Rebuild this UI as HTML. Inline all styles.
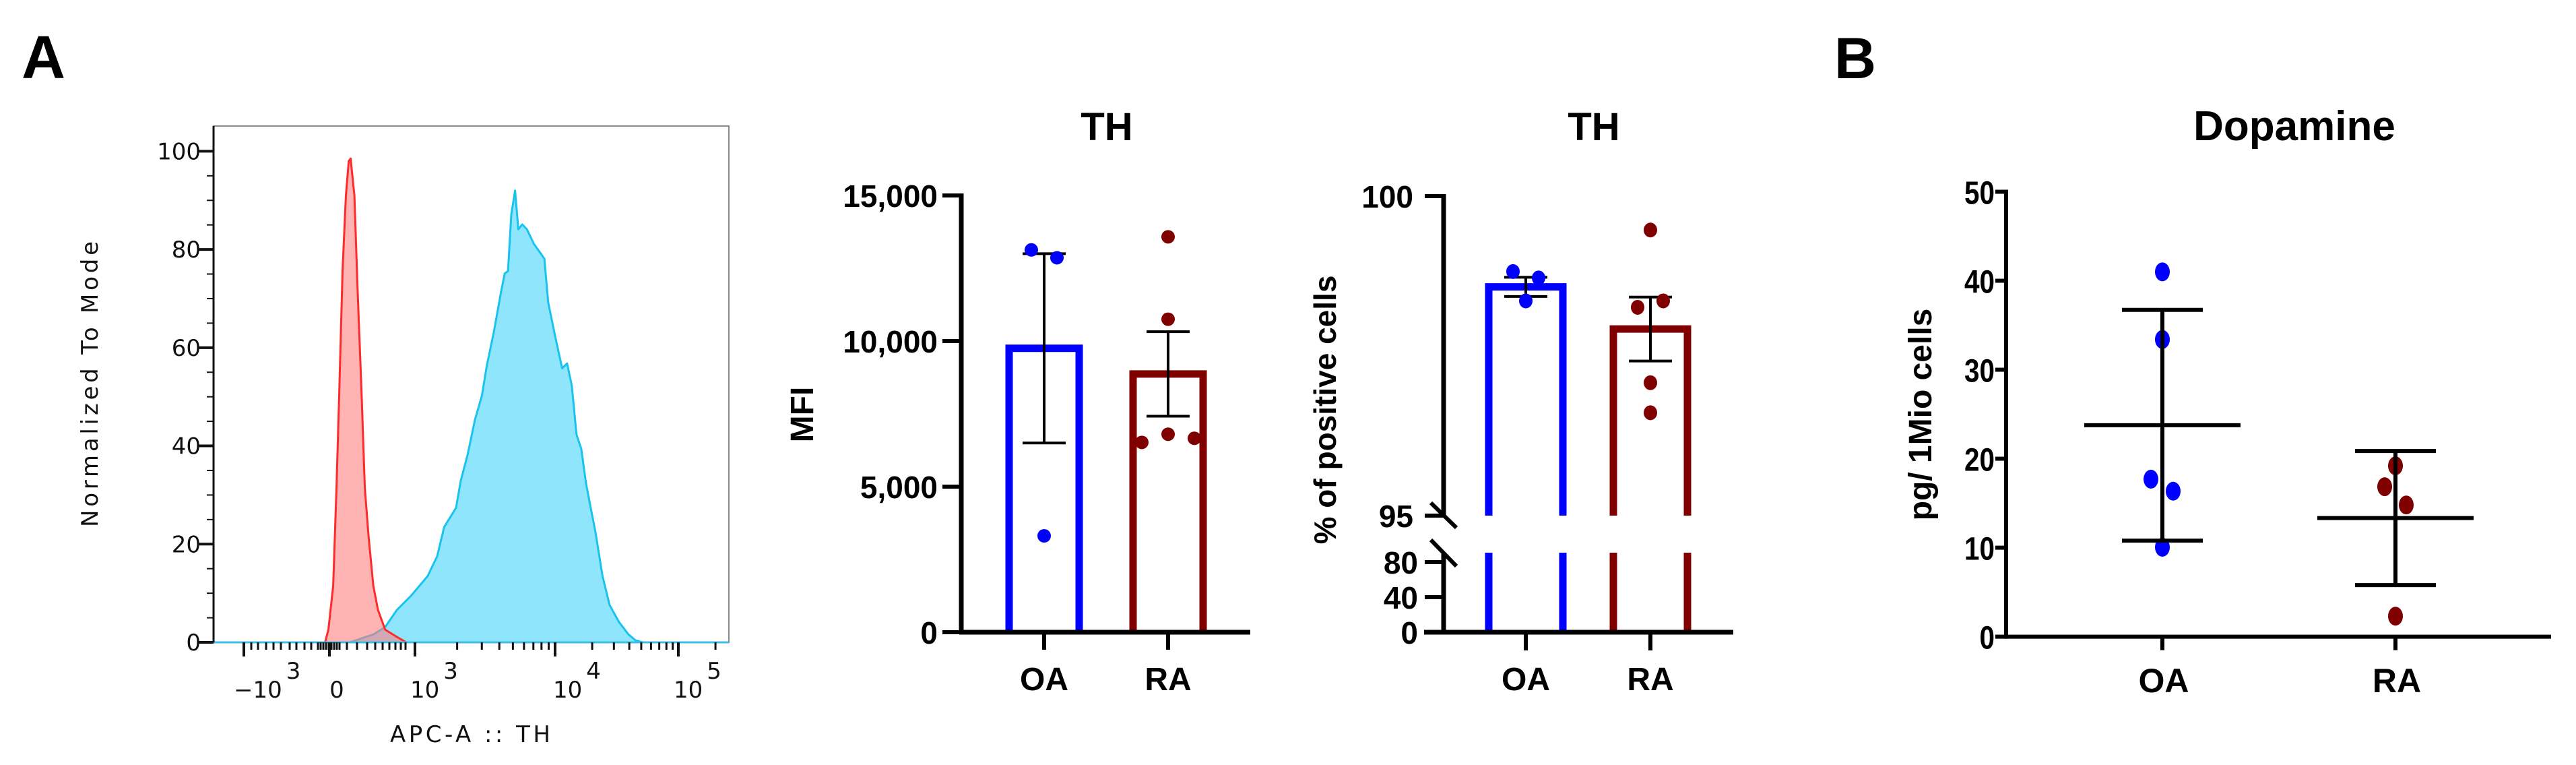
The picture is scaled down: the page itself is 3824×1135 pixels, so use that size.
<!DOCTYPE html>
<html><head><meta charset="utf-8"><style>
html,body{margin:0;padding:0;background:#fff;}
svg{display:block;}
text{font-family:"Liberation Sans",sans-serif;}
.dj{font-family:"DejaVu Sans","Liberation Sans",sans-serif;}
</style></head><body>
<svg id="fig" width="3824" height="1135" viewBox="0 0 3824 1135" xmlns="http://www.w3.org/2000/svg">
<text x="32" y="116" font-size="90" font-weight="bold">A</text>
<text x="2723" y="116" font-size="86" font-weight="bold">B</text>
<g id="hist"></g>
<g id="mfi"></g>
<g id="pct"></g>
<g id="dopa"></g>
</svg>
<script>
// ---- Histogram data ----
const blueX = [237,513,651,789,955,1233,1439,1617,1965,2123,2384,2678,3007,3253,3655,4105,4367,4613,4869,5180,5472,5826,6295,7070,7943,8386,8933,10037,11414,12511,13659,14919,16316,17816,19455,21250,24245,27675,33037,39411,44978,51335];
const blueY = [0,1.6,3.1,6.6,9.5,13.5,17.5,23.5,27.4,32.9,38.4,45.3,50.3,56.3,63.2,71.2,75.1,75.6,87.1,92,84.1,85.1,84.1,81.1,79.1,78.1,69.2,62.2,55.8,56.8,52.3,42.3,39.4,32.4,27.4,22.5,13.5,7.6,4.1,1.6,0.4,0];
const redX = [-50,-12,44,83,116,154,193,226,248,292,331,375,414,458,513,568,651,789,900];
const redY = [0,2.6,11.5,31.4,51.3,76.1,91,98,98.5,91,71.2,51.3,31.4,21.5,11.5,6.6,2.6,1.1,0];
const histYTicks = [0,20,40,60,80,100];
// ---- MFI data ----
const mfiCats = ["OA","RA"];
const mfiMeans = [9750,8870];
const mfiSem = [3250,1450];
const mfiOA = [13130,12860,3310];
const mfiRA = [13580,10750,6520,6800,6660];
const mfiTicks = [0,5000,10000,15000];
const mfiTickLabels = ["0","5,000","10,000","15,000"];
// ---- Percent data ----
const pctMeans = [98.58,97.92];
const pctSem = [0.15,0.5];
const pctOA = [98.82,98.72,98.36];
const pctRA = [99.47,98.26,98.36,97.08,96.61];
const pctTicksUpper = [95,100];
const pctTicksLower = [0,40,80];
// ---- Dopamine data ----
const dopaCats = ["OA","RA"];
const dopaMeans = [23.76,13.33];
const dopaSd = [12.97,7.54];
const dopaOA = [41.0,33.4,17.7,16.35,10.05];
const dopaRA = [19.2,16.85,14.8,2.3];
const dopaTicks = [0,10,20,30,40,50];

const NS="http://www.w3.org/2000/svg";
function mk(parent,tag,attrs,txt){const e=document.createElementNS(NS,tag);for(const k in attrs)e.setAttribute(k,attrs[k]);if(txt!==undefined)e.textContent=txt;parent.appendChild(e);return e;}

// ===== Histogram =====
(function(){
const g=document.getElementById('hist');
const L=317,R=1082,T=187,B=953;
const hx=v=>v<=1000?489+v/1000*127:(v<=10000?616+(Math.log10(v)-3)*208:824+(Math.log10(v)-4)*183);
const hy=c=>B-c/100*(B-224.4);
let r=mk(g,'rect',{x:L,y:T,width:R-L,height:B-T,fill:'#fff',stroke:'#8a8a8a','stroke-width':2});


function area(xs,ys,fill,stroke,name,op){
 let d='M'+hx(xs[0])+','+B;
 for(let i=0;i<xs.length;i++)d+=' L'+hx(xs[i]).toFixed(1)+','+hy(ys[i]).toFixed(1);
 d+=' L'+hx(xs[xs.length-1])+','+B+' Z';
 const p=mk(g,'path',{d:d,fill:fill,'fill-opacity':op,stroke:stroke,'stroke-width':3,'stroke-linejoin':'round'});
 
 
}
area(blueX,blueY,'#8fe6fc','#18c4ee','histogram-stained',1);
area(redX,redY,'#ff8080','#ff2a2a','histogram-control',0.6);
let bl=mk(g,'line',{x1:L,y1:B,x2:R,y2:B,stroke:'#3cc0e6','stroke-width':3});


let ya=mk(g,'line',{x1:L,y1:T,x2:L,y2:B,stroke:'#111','stroke-width':3});


for(let v=0;v<=100;v+=5){const y=hy(v);const maj=v%20===0;
 let t=mk(g,'line',{x1:L-(maj?22:10),y1:y,x2:L,y2:y,stroke:'#111','stroke-width':maj?4:2});
 
 }
histYTicks.forEach(v=>{let t=mk(g,'text',{x:298,y:hy(v)+12,'font-size':34,'text-anchor':'end',class:'dj',fill:'#111'},String(v));
 
 });
const major=[-1000,0,1000,10000,100000];
major.forEach(v=>{let t=mk(g,'line',{x1:hx(v),y1:B,x2:hx(v),y2:B+21,stroke:'#111','stroke-width':4});
 
 });
const minorPx=[373,383,395,406,417,430,440,452,462,472,476,480,484,488,492,496,500,504,515,530,545,557,568,578,587,595,602];
minorPx.forEach(x=>{let t=mk(g,'line',{x1:x,y1:B,x2:x,y2:B+11,stroke:'#111','stroke-width':3});
 
 });
for(let d=3;d<=4;d++)for(let m=2;m<=9;m++){const x=hx(m*Math.pow(10,d));if(x>R)continue;
 let t=mk(g,'line',{x1:x,y1:B,x2:x,y2:B+11,stroke:'#111','stroke-width':3});
 
 }
let t=mk(g,'line',{x1:hx(200000),y1:B,x2:hx(200000),y2:B+11,stroke:'#111','stroke-width':3});


const xl=[[347,'−10','3'],[609,'10','3'],[821,'10','4'],[1000,'10','5']];
xl.forEach(a=>{const tx=mk(g,'text',{x:a[0],y:1035,'font-size':34,class:'dj',fill:'#111'});
 
 
 mk(tx,'tspan',{},a[1]);mk(tx,'tspan',{dy:-28,dx:6},a[2]);});
let z=mk(g,'text',{x:500,y:1035,'font-size':34,class:'dj','text-anchor':'middle',fill:'#111'},'0');


let xt=mk(g,'text',{x:579,y:1101,'font-size':34,class:'dj',textLength:238,fill:'#111'},'APC-A :: TH');


let yt=mk(g,'text',{x:0,y:0,'font-size':34,class:'dj',textLength:424,'text-anchor':'middle',transform:'translate(145,570) rotate(-90)',fill:'#111'},'Normalized To Mode');


})();

function line(g,x1,y1,x2,y2,w,name,col){const l=mk(g,'line',{x1:x1,y1:y1,x2:x2,y2:y2,stroke:col||'#000','stroke-width':w});
 
 return l;}
function txt(g,x,y,s,size,anchor,name,extra){const a={x:x,y:y,'font-size':size,'font-weight':'bold','text-anchor':anchor||'middle'};Object.assign(a,extra||{});const t=mk(g,'text',a,s);
 
 return t;}
function dot(g,x,y,rx,ry,col,name){const c=mk(g,'ellipse',{cx:x,cy:y,rx:rx,ry:ry,fill:col});
 
 return c;}

// ===== MFI =====
(function(){
const g=document.getElementById('mfi');
const ax=1427,y0=938,yTop=290,xEnd=1856;
const ys=v=>y0-(v/15000)*(y0-yTop);
const cx=[1550,1734];const cols=['#0000ff','#800000'];
mfiCats.forEach((c,i)=>{
 const top=ys(mfiMeans[i]);
 const p=mk(g,'path',{d:`M${cx[i]-52},${y0} L${cx[i]-52},${top} L${cx[i]+52},${top} L${cx[i]+52},${y0}`,fill:'none',stroke:cols[i],'stroke-width':11});
 
 
 const hi=ys(mfiMeans[i]+mfiSem[i]),lo=ys(mfiMeans[i]-mfiSem[i]);
 line(g,cx[i],hi,cx[i],lo,4,'error-bar');
 line(g,cx[i]-32,hi,cx[i]+32,hi,4,'error-cap');
 line(g,cx[i]-32,lo,cx[i]+32,lo,4,'error-cap');
 line(g,cx[i],y0,cx[i],y0+26,6,'x-tick');
 txt(g,cx[i],1024,c,48,'middle','x-tick-label');
});
const oaOff=[-19,19,0],raOff=[0,0,-39,0,39];
mfiOA.forEach((v,i)=>dot(g,1550+oaOff[i],ys(v),10,10,'#0000ff','point-oa'));
mfiRA.forEach((v,i)=>dot(g,1734+raOff[i],ys(v),10,10,'#800000','point-ra'));
line(g,ax,yTop-3,ax,y0+3,7,'y-axis-line');
line(g,ax-3,y0,xEnd,y0,7,'x-axis-line');
mfiTicks.forEach((v,i)=>{line(g,ax-28,ys(v),ax,ys(v),6,'y-tick');
 txt(g,1392,ys(v)+17,mfiTickLabels[i],46,'end','y-tick-label');});
txt(g,1643,208,'TH',58,'middle','chart-title');
txt(g,0,0,'MFI',48,'middle','y-axis-title',{transform:'translate(1207,615) rotate(-90)'});
})();

// ===== Percent =====
(function(){
const g=document.getElementById('pct');
const ax=2143,y0=938,yTop=291,yB=765,yL=820,xEnd=2573;
const yu=v=>yB-(v-95)/5*(yB-yTop);
const yl=v=>y0-v/80*(y0-834);
const cx=[2265,2450];const cols=['#0000ff','#800000'];
mfiCats.forEach((c,i)=>{
 const top=yu(pctMeans[i]);
 const p=mk(g,'path',{d:`M${cx[i]-55},${yB} L${cx[i]-55},${top} L${cx[i]+55},${top} L${cx[i]+55},${yB} M${cx[i]-55},${yL} L${cx[i]-55},${y0} M${cx[i]+55},${yL} L${cx[i]+55},${y0}`,fill:'none',stroke:cols[i],'stroke-width':11});
 
 
 const hi=yu(pctMeans[i]+pctSem[i]),lo=yu(pctMeans[i]-pctSem[i]);
 line(g,cx[i],hi,cx[i],lo,4,'error-bar');
 line(g,cx[i]-32,hi,cx[i]+32,hi,4,'error-cap');
 line(g,cx[i]-32,lo,cx[i]+32,lo,4,'error-cap');
 line(g,cx[i],y0,cx[i],y0+27,6,'x-tick');
 txt(g,cx[i],1024,c,48,'middle','x-tick-label');
});
const oaOff=[-19,19,0],raOff=[0,-19,19,0,0];
pctOA.forEach((v,i)=>dot(g,2265+oaOff[i],yu(v),10,11,'#0000ff','point-oa'));
pctRA.forEach((v,i)=>dot(g,2450+raOff[i],yu(v),10,11,'#800000','point-ra'));
line(g,ax,yTop-3,ax,yB,7,'y-axis-line-upper');
line(g,ax,yL,ax,y0+3,7,'y-axis-line-lower');
line(g,2124,746,2162,783,6,'axis-break-mark');
line(g,2124,801,2162,840,6,'axis-break-mark');
line(g,2114,y0,xEnd,y0,7,'x-axis-line');
pctTicksUpper.forEach(v=>{line(g,ax-28,yu(v),ax,yu(v),6,'y-tick');
 txt(g,2098,yu(v)+17,String(v),46,'end','y-tick-label');});
pctTicksLower.forEach(v=>{line(g,ax-28,yl(v),ax,yl(v),6,'y-tick');
 txt(g,2105,yl(v)+17,String(v),46,'end','y-tick-label');});
txt(g,2366,208,'TH',58,'middle','chart-title');
txt(g,0,0,'% of positive cells',46,'middle','y-axis-title',{transform:'translate(1983,608) rotate(-90)'});
})();

// ===== Dopamine =====
(function(){
const g=document.getElementById('dopa');
const ax=2978,y0=944.6,yTop=284.5,xEnd=3787;
const ys=v=>y0-v/50*(y0-yTop);
const cx=[3210,3556];
const oaOff=[0,0,-17,16,0],raOff=[0,-16,16,0];
dopaOA.forEach((v,i)=>dot(g,cx[0]+oaOff[i],ys(v),11,14,'#0000ff','point-oa'));
dopaRA.forEach((v,i)=>dot(g,cx[1]+raOff[i],ys(v),11,14,'#800000','point-ra'));
dopaCats.forEach((c,i)=>{
 const hi=ys(dopaMeans[i]+dopaSd[i]),lo=ys(dopaMeans[i]-dopaSd[i]),m=ys(dopaMeans[i]);
 line(g,cx[i],hi,cx[i],lo,6,'error-bar');
 line(g,cx[i]-60,hi,cx[i]+60,hi,6,'error-cap');
 line(g,cx[i]-60,lo,cx[i]+60,lo,6,'error-cap');
 line(g,cx[i]-116,m,cx[i]+116,m,6,'mean-line-'+c.toLowerCase());
 line(g,cx[i],y0,cx[i],y0+20,6,'x-tick');
 txt(g,cx[i]+2,1027,c,50,'middle','x-tick-label');
});
line(g,ax,yTop-3,ax,y0+3,6,'y-axis-line');
line(g,ax-3,y0,xEnd,y0,6,'x-axis-line');
dopaTicks.forEach(v=>{line(g,ax-16,ys(v),ax,ys(v),6,'y-tick');
 txt(g,2961,ys(v)+18,String(v),48,'end','y-tick-label',{textLength:String(v).length*22.5,lengthAdjust:'spacingAndGlyphs'});});
txt(g,3406,208,'Dopamine',62,'middle','chart-title');
txt(g,0,0,'pg/ 1Mio cells',48,'middle','y-axis-title',{transform:'translate(2867,615) rotate(-90)'});
})();
</script>
</body></html>
